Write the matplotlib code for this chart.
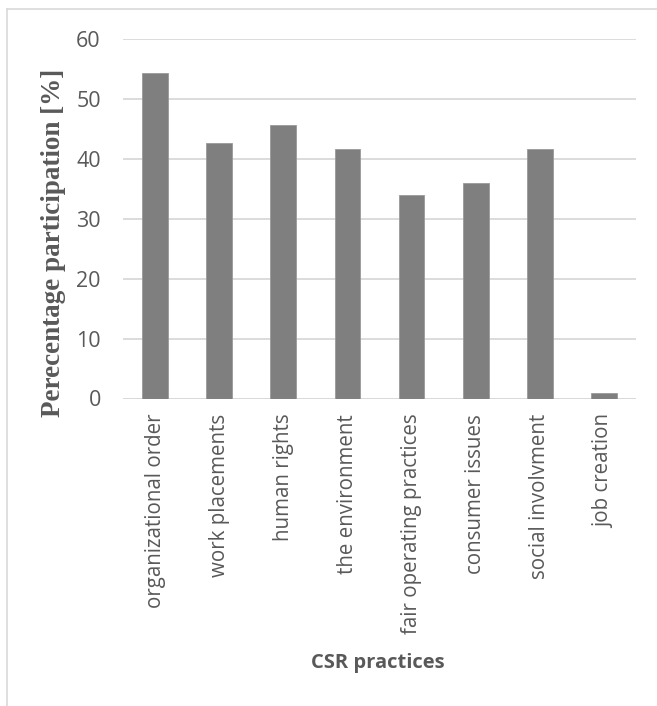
import matplotlib
matplotlib.use("Agg")
import matplotlib.pyplot as plt
from matplotlib.lines import Line2D

# CSR practice categories and participation shares (%)
practices = [
    "organizational order",
    "work placements",
    "human rights",
    "the environment",
    "fair operating practices",
    "consumer issues",
    "social involvment",
    "job creation",
]
participation = [54.4, 42.7, 45.6, 41.7, 34.0, 35.9, 41.7, 1.0]
y_ticks = [0, 10, 20, 30, 40, 50, 60]

W, H = 657, 706
fig = plt.figure(figsize=(W / 100, H / 100), dpi=100)
ax = fig.add_axes([123 / W, 1 - 398.5 / H, 513 / W, 359.5 / H])

x = list(range(len(practices)))
ax.bar(x, participation, width=0.4, color="#7f7f7f", edgecolor="#9a9a9a",
       linewidth=0.6, zorder=3)

ax.set_xlim(-0.5, len(practices) - 0.5)
ax.set_ylim(0, 60)
ax.set_yticks(y_ticks)
ax.yaxis.grid(True, color="#d9d9d9", linewidth=1.3, zorder=0)
ax.set_axisbelow(True)
for side in ["top", "right", "left", "bottom"]:
    ax.spines[side].set_visible(False)
ax.axhline(0, color="#d9d9d9", linewidth=1.3, zorder=2)

ax.tick_params(axis="both", length=0, colors="#595959")
ax.tick_params(axis="y", pad=16)
ax.tick_params(axis="x", pad=11)
ax.set_xticks(x)
ax.set_xticklabels(practices, rotation=90, family="Open Sans", fontsize=14.8,
                   color="#595959", va="top", ha="center")
for lbl in ax.get_yticklabels():
    lbl.set_family("Open Sans")
    lbl.set_fontsize(15.5)
    lbl.set_color("#595959")

fig.text(378 / W, 1 - 663 / H, "CSR practices", family="Open Sans",
         fontweight="bold", fontsize=14.5, color="#595959",
         ha="center", va="center")
fig.text(54 / W, 1 - 243 / H, "Perecentage participation [%]",
         family="Liberation Serif", fontweight="bold", fontsize=19.5,
         color="#595959", rotation=90, ha="center", va="center")

# Outer frame of the chart area (top and left edges)
fig.add_artist(Line2D([7 / W, 7 / W], [0, 1 - 9 / H], transform=fig.transFigure,
                      color="#d9d9d9", linewidth=1.2))
fig.add_artist(Line2D([7 / W, 1], [1 - 9 / H, 1 - 9 / H], transform=fig.transFigure,
                      color="#d9d9d9", linewidth=1.2))

fig.savefig("out.png", dpi=100)
